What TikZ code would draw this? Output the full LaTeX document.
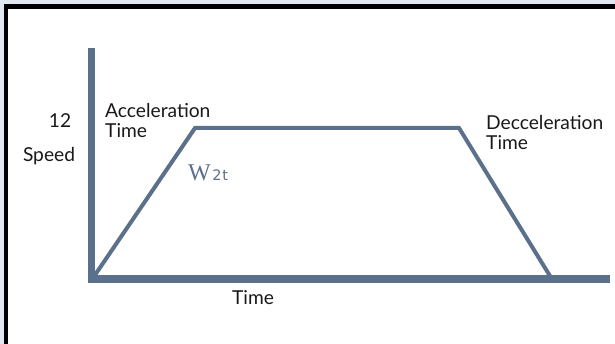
\documentclass[tikz,border=0pt]{standalone}
\usepackage{fontspec}
\setmainfont{Lato}
\newfontfamily\wfont{Liberation Serif}
\newfontfamily\tfont{DejaVu Sans}
\definecolor{slate}{RGB}{91,112,138}
\definecolor{pagebg}{RGB}{226,232,240}
\begin{document}
\begin{tikzpicture}[x=1pt,y=-1pt,
  axis/.style={draw=slate,line width=7.5pt},
  curve/.style={draw=slate,line width=4pt,line join=miter},
  lbl/.style={inner sep=0pt,font=\fontsize{19.2}{20}\selectfont,text=black!90}]
\useasboundingbox (0,0) rectangle (615,344);
\fill[pagebg] (0,0) rectangle (615,344);
\fill[black] (4,4) rectangle (615,344);
\fill[white] (8,9) rectangle (615,344);
% axes
\coordinate (ytop) at (91.5,48);
\coordinate (ybot) at (91.5,283);
\coordinate (orig) at (88,279);
\coordinate (xend) at (610,279);
\draw[axis] (ytop) -- (ybot);
\draw[axis] (orig) -- (xend);
% trapezoid
\coordinate (p0) at (95,275);
\coordinate (p1) at (195,128);
\coordinate (p2) at (459,128);
\coordinate (p3) at (550,276);
\draw[curve] (p0) -- (p1) -- (p2) -- (p3);
% labels
\node[lbl,anchor=base] (twelve) at (60,128) {12};
\node[lbl,anchor=base] (speed) at (49,162) {Speed};
\node[lbl,anchor=north west,align=left] (acc) at (105,103) {Acceleration\\Time};
\node[lbl,anchor=north west,align=left] (dec) at (486,115) {Decceleration\\Time};
\node[lbl,anchor=base] (time) at (253,305) {Time};
\node[inner sep=0pt,anchor=base west,text=slate] (w2t) at (188,181)
  {{\wfont\fontsize{24}{24}\selectfont W}\hspace{1.5pt}{\tfont\fontsize{14.5}{15}\selectfont 2\hspace{0.8pt}t}};
\end{tikzpicture}
\end{document}
